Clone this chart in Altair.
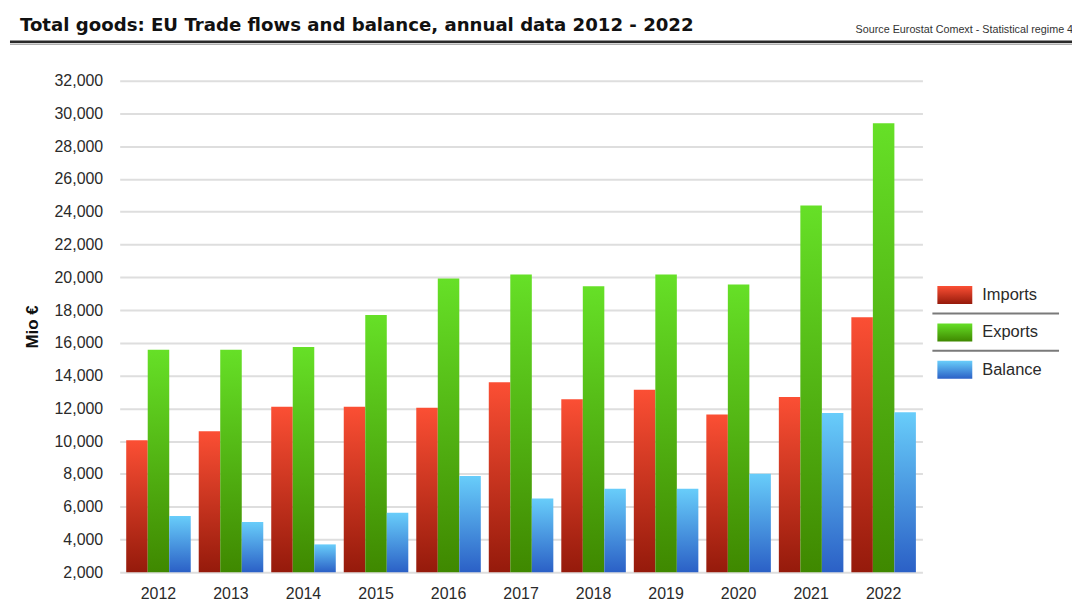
import altair as alt
import pandas as pd

# ---- data ----
years = ["2012", "2013", "2014", "2015", "2016", "2017", "2018", "2019", "2020", "2021", "2022"]
imports = [10050, 10600, 12100, 12100, 12040, 13600, 12560, 13140, 11620, 12700, 17560]
exports = [15580, 15580, 15740, 17700, 19930, 20170, 19460, 20170, 19560, 24380, 29400]
balance = [5430, 5070, 3700, 5630, 7870, 6500, 7090, 7090, 8010, 11720, 11760]
series = ["Imports", "Exports", "Balance"]
y_ticks = list(range(2000, 32001, 2000))

title_text = "Total goods: EU Trade flows and balance, annual data 2012 - 2022"
source_text = "Source Eurostat Comext  - Statistical regime 4"
y_title = "Mio €"

# ---- styles ----
top_colors = ["#fb4f34", "#66e027", "#68cdfa"]
bottom_colors = ["#951a0b", "#3f8800", "#2b60c6"]
FONT = "Liberation Sans"

rows = []
for i, yr in enumerate(years):
    for s, vals in zip(series, [imports, exports, balance]):
        rows.append({"year": yr, "series": s, "value": vals[i]})
df = pd.DataFrame(rows)
legend_df = pd.DataFrame({"series": series})
note_df = pd.DataFrame({"title": [title_text], "source": [source_text]})


def grad(i):
    return alt.LinearGradient(
        gradient="linear",
        stops=[alt.GradientStop(color=top_colors[i], offset=0),
               alt.GradientStop(color=bottom_colors[i], offset=1)],
        x1=0, x2=0, y1=0, y2=1,
    )


x_enc = alt.X(
    "year:N", sort=years,
    scale=alt.Scale(domain=years, paddingInner=0.11, paddingOuter=0.09),
    axis=alt.Axis(title=None, labelAngle=0, domain=False, ticks=False,
                  labelPadding=13, labelFontSize=16, labelColor="#2a2a2a", labelFont=FONT),
)
y_scale = alt.Scale(domain=[2000, 32000], nice=False, zero=False)
y_axis = alt.Axis(values=y_ticks, format=",.0f", domain=False, ticks=False,
                  labelPadding=17, labelFontSize=16, labelColor="#2a2a2a", labelFont=FONT,
                  grid=True, gridColor="#dedede", gridWidth=2,
                  title=y_title, titleFont=FONT, titleFontSize=17, titleFontWeight="bold",
                  titleColor="#111", titlePadding=12)

bar_layers = []
for i, s in enumerate(series):
    bar_layers.append(
        alt.Chart(df).transform_filter(alt.datum.series == s)
        .mark_bar(color=grad(i))
        .encode(
            x=x_enc,
            xOffset=alt.XOffset("series:N", scale=alt.Scale(domain=series, paddingInner=0, paddingOuter=0)),
            y=alt.Y("value:Q", scale=y_scale, axis=y_axis),
            y2=alt.datum(2000),
        )
    )

leg_y = alt.Y("series:N", scale=alt.Scale(type="point", domain=series, range=[215, 290], padding=0), axis=None)
legend_layers = []
for i, s in enumerate(series):
    legend_layers.append(
        alt.Chart(legend_df).transform_filter(alt.datum.series == s)
        .mark_bar(orient="horizontal", size=18, color=grad(i))
        .encode(x=alt.value(820), x2=alt.value(855), y=leg_y)
    )
legend_layers.append(
    alt.Chart(legend_df).transform_filter(alt.datum.series != series[-1])
    .mark_rule(color="#7a7a7a", strokeWidth=2, yOffset=18.5)
    .encode(x=alt.value(815), x2=alt.value(942), y=leg_y)
)
legend_layers.append(
    alt.Chart(legend_df)
    .mark_text(align="left", baseline="middle", font=FONT, fontSize=16.5, color="#2a2a2a")
    .encode(x=alt.value(865), y=leg_y, text="series:N")
)

deco = [
    alt.Chart(note_df).mark_rule(color="#2a2a2a", strokeWidth=2.5)
    .encode(x=alt.value(-110), x2=alt.value(960), y=alt.value(-39)),
    alt.Chart(note_df).mark_rule(color="#b0b0b0", strokeWidth=1.5)
    .encode(x=alt.value(-110), x2=alt.value(960), y=alt.value(-36.5)),
    alt.Chart(note_df).mark_text(align="left", baseline="alphabetic", font=FONT, fontSize=10.8, color="#333")
    .encode(x=alt.value(738), y=alt.value(-48), text="source:N"),
    alt.Chart(note_df).mark_text(align="left", baseline="alphabetic", font="DejaVu Sans", fontSize=18.2,
                                 fontWeight="bold", color="#111")
    .encode(x=alt.value(-100), y=alt.value(-50), text="title:N"),
]

chart = (
    alt.layer(alt.layer(*bar_layers), alt.layer(*legend_layers, *deco))
    .resolve_scale(y="independent")
    .properties(
        width=805, height=493,
        padding={"left": 112, "top": 72, "right": 150, "bottom": 30},
        autosize=alt.AutoSizeParams(type="none"),
    )
    .configure_view(stroke=None)
)

chart.save("out.html", embed_options={"renderer": "svg", "actions": False})
